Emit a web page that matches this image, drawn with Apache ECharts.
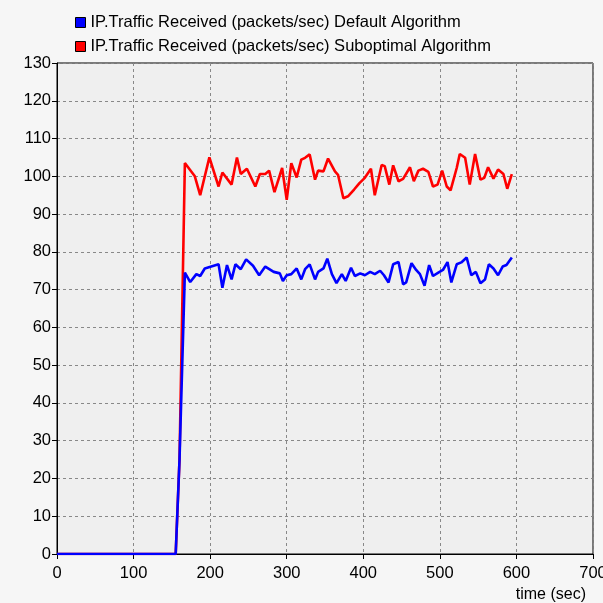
<!DOCTYPE html>
<html><head><meta charset="utf-8">
<script src="https://cdn.jsdelivr.net/npm/echarts@6/dist/echarts.min.js"></script>
<style>html,body{margin:0;padding:0;background:#f6f6f6;}#c{width:603px;height:603px;}</style>
</head><body><div id="c"></div>
<script>
const seriesNames = ['IP.Traffic Received (packets/sec) Default Algorithm', 'IP.Traffic Received (packets/sec) Suboptimal Algorithm'];
const blueTimes = [0,155,160,167,174,182,187,193,211,216,222,228,233,240,247,256,264,272,283,291,295,300,306,313,319,324,330,337,341,348,353,359,365,372,377,384,389,396,402,409,415,422,427,433,439,446,452,456,463,469,474,480,486,491,498,504,510,515,522,528,535,541,547,553,559,564,570,576,582,587,594];
const blueValues = [0,0,25,74.5,72,74.1,73.6,75.6,76.7,70.5,76.5,72.7,76.7,75.4,78,76.3,73.8,76.1,74.7,74.3,72.3,73.8,74.1,75.6,72.7,75.4,76.7,72.7,74.7,75.6,78.2,74.1,71.7,74.1,72.3,75.8,73.6,74.3,73.8,74.7,74.1,75,73.8,71.9,76.7,77.3,71.4,71.9,77,75.2,74.1,71,76.5,73.6,74.5,75.2,77.3,71.9,76.7,77.2,78.5,73.8,74.7,71.7,72.7,76.7,75.6,73.8,76.1,76.5,78.5];
const redTimes = [0,155,160,167,180,187,199,211,216,228,235,240,248,259,265,272,277,284,294,300,306,313,319,324,330,337,341,348,354,363,367,374,380,388,395,402,410,415,424,428,434,439,446,452,461,466,472,478,485,491,497,503,509,514,522,526,533,539,546,553,558,563,570,576,583,588,594];
const redValues = [0,0,25,103.5,100,95,105,97.3,101,97.8,105,100.6,102,97.3,100.6,100.6,101.5,95.8,102.2,93.8,103.5,99.7,104.4,104.9,105.8,99.1,101.5,101.3,104.7,101.3,100.4,94.2,94.7,96.5,98.2,99.6,102,95,103,102.7,97.8,102.9,98.7,99.3,102.4,98.7,101.5,102,101.2,97.3,97.8,101.5,97.3,96.3,102.2,105.9,104.9,97.8,105.9,99.1,99.6,102.4,99.4,101.8,100.6,96.7,100.6];
const xTicks = [0,100,200,300,400,500,600,700];
const yMax = 130;

const FONT = 'Liberation Sans, Arial, sans-serif';
const zip = (a,b) => a.map((t,i)=>[t,b[i]]);
const chart = echarts.init(document.getElementById('c'));
chart.setOption({
  backgroundColor: '#f6f6f6',
  animation: false,
  textStyle: {fontFamily: FONT},
  legend: {
    orient: 'vertical', left: 70, top: 9, itemGap: 7,
    itemWidth: 10, itemHeight: 10, icon: 'rect',
    textStyle: {fontSize: 16.5, color: '#000', fontFamily: FONT},
    itemStyle: {borderColor: '#000', borderWidth: 1},
    data: [seriesNames[0], seriesNames[1]]
  },
  grid: {left: 57, right: 10, top: 63, bottom: 49, outerBoundsMode: 'none', containLabel: false, show: true, backgroundColor: '#efefef', borderColor: '#000', borderWidth: 1},
  xAxis: {
    type: 'value', min: xTicks[0], max: xTicks[xTicks.length-1], interval: 100,
    axisLine: {lineStyle: {color: '#000'}},
    axisTick: {show: true, length: 5, lineStyle: {color: '#000'}},
    axisLabel: {color: '#000', fontSize: 16.5, margin: 11, fontFamily: FONT},
    splitLine: {show: true, lineStyle: {color: '#888', type: [3,3], width: 1}}
  },
  yAxis: {
    type: 'value', min: 0, max: yMax, interval: 10,
    axisLine: {show: true, lineStyle: {color: '#000'}},
    axisTick: {show: true, length: 5, lineStyle: {color: '#000'}},
    axisLabel: {color: '#000', fontSize: 16.5, margin: 6, fontFamily: FONT},
    splitLine: {show: true, lineStyle: {color: '#888', type: [3,3], width: 1}}
  },
  graphic: [{type: 'text', right: 17, top: 587, style: {text: 'time (sec)', fontSize: 16, fill: '#000', fontFamily: FONT}}],
  series: [
    {name: seriesNames[1], type: 'line', data: zip(redTimes, redValues), showSymbol: false, color: '#ff0000', lineStyle: {width: 2.6, color: '#ff0000'}, z: 2},
    {name: seriesNames[0], type: 'line', data: zip(blueTimes, blueValues), showSymbol: false, color: '#0000ff', lineStyle: {width: 2.6, color: '#0000ff'}, z: 3}
  ]
});
</script></body></html>
